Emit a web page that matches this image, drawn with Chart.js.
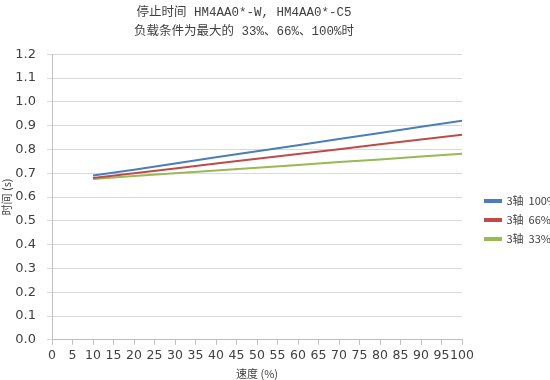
<!DOCTYPE html>
<html>
<head>
<meta charset="utf-8">
<script src="https://cdn.jsdelivr.net/npm/chart.js@4"></script>
<style>
  html, body { margin: 0; padding: 0; background: #fff; }
  #wrap { width: 550px; height: 380px; }
</style>
</head>
<body>
<div id="wrap"><canvas id="stopChart"></canvas></div>
<script>
// speed (%) and stop time (s) per load
const speeds = [10, 20, 30, 40, 50, 60, 70, 80, 90, 100];
const load100 = [0.690, 0.715, 0.741, 0.767, 0.792, 0.818, 0.844, 0.869, 0.895, 0.921];
const load66 = [0.680, 0.700, 0.720, 0.741, 0.761, 0.781, 0.801, 0.822, 0.842, 0.862];
const load33 = [0.676, 0.688, 0.700, 0.711, 0.723, 0.735, 0.747, 0.758, 0.770, 0.782];
const seriesNames = ['3轴  100%', '3轴  66%', '3轴  33%'];
const titleLines = ['停止时间 HM4AA0*-W, HM4AA0*-C5', '负载条件为最大的 33%、66%、100%时'];

const toPoints = vals => vals.map((v, i) => ({ x: speeds[i], y: v }));

// nudge legend right (labels run off the edge like the original) and title a bit left
const boxShift = {
  id: 'boxShift',
  afterLayout(chart) {
    chart.legend.left += 15;
    chart.titleBlock.left -= 13;
    chart.titleBlock.right -= 13;
  }
};

const ctx = document.getElementById('stopChart').getContext('2d');
new Chart(ctx, {
  type: 'line',
  data: {
    datasets: [
      { label: seriesNames[0], data: toPoints(load100), borderColor: '#4A7EBB', backgroundColor: '#4A7EBB' },
      { label: seriesNames[1], data: toPoints(load66), borderColor: '#BE4B48', backgroundColor: '#BE4B48' },
      { label: seriesNames[2], data: toPoints(load33), borderColor: '#98B954', backgroundColor: '#98B954' }
    ].map(d => Object.assign(d, { borderWidth: 2, pointRadius: 0, tension: 0, fill: false }))
  },
  plugins: [boxShift],
  options: {
    responsive: true,
    maintainAspectRatio: false,
    animation: false,
    layout: { padding: 0 },
    plugins: {
      title: {
        display: true,
        fullSize: false,
        text: titleLines,
        color: '#404040',
        font: { family: '"Liberation Mono", "Noto Sans CJK SC"', size: 12.5, weight: 'normal', lineHeight: 1.45 },
        padding: { top: 4, bottom: 14 }
      },
      legend: {
        position: 'right',
        maxWidth: 88,
        title: { display: true, text: ' ', padding: { top: 24, bottom: 24 }, font: { size: 10 } },
        labels: {
          boxWidth: 16,
          boxHeight: 2,
          padding: 8,
          color: '#404040',
          font: { family: '"Noto Sans CJK SC"', size: 11 }
        }
      },
      tooltip: { enabled: false }
    },
    scales: {
      x: {
        type: 'linear',
        min: 0,
        max: 100,
        ticks: { stepSize: 5, color: '#404040', font: { family: 'DejaVu Sans', size: 12.5 }, maxRotation: 0, autoSkip: false, padding: 3 },
        grid: { drawOnChartArea: false, color: '#bfbfbf', tickLength: 5 },
        border: { color: '#bfbfbf' },
        title: { display: true, text: '速度 (%)', color: '#404040', font: { family: '"Noto Sans CJK SC"', size: 11 }, padding: { top: 1, bottom: 0 } }
      },
      y: {
        min: 0,
        max: 1.2,
        afterFit: scale => { scale.width = 52; },
        ticks: { stepSize: 0.1, color: '#404040', font: { family: 'DejaVu Sans', size: 13 }, padding: 11, callback: v => v.toFixed(1) },
        grid: { color: '#d9d9d9', tickLength: 5 },
        border: { color: '#bfbfbf' },
        title: { display: true, text: '时间 (s)', color: '#404040', font: { family: '"Noto Sans CJK SC"', size: 11 }, padding: { top: 0, bottom: 0 } }
      }
    }
  }
});
</script>
</body>
</html>
